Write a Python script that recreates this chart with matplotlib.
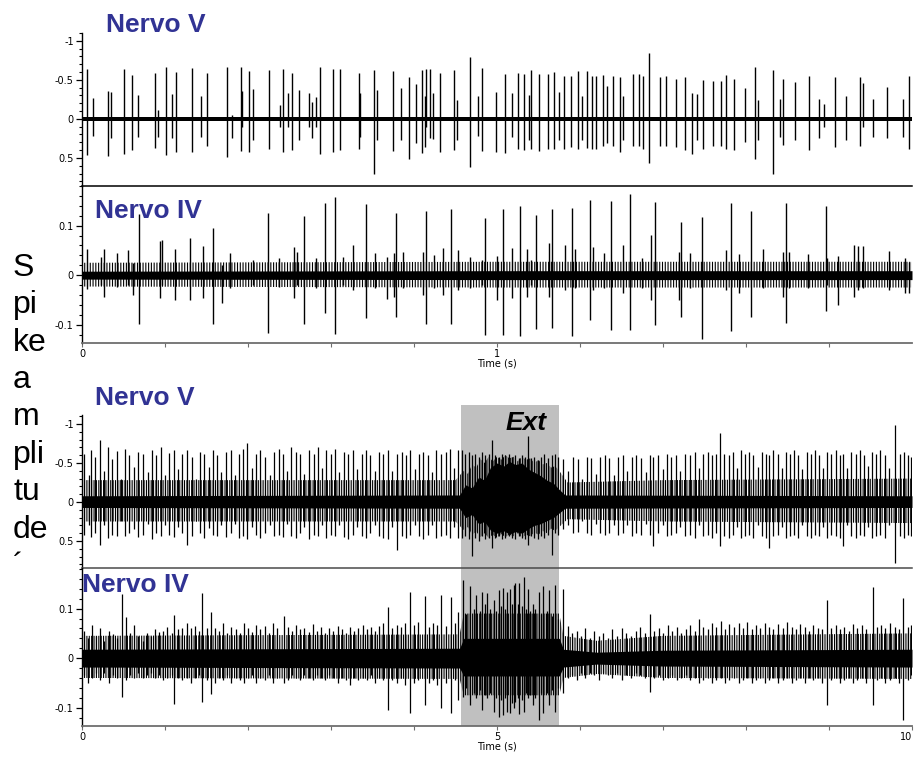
import numpy as np
import matplotlib
matplotlib.use('Agg')
import matplotlib.pyplot as plt
from matplotlib.patches import Rectangle
from matplotlib.ticker import MultipleLocator, FixedLocator
from matplotlib.transforms import blended_transform_factory

plt.rcParams['hatch.linewidth'] = 0.8

TITLE_BLUE = '#313394'
EXT_START, EXT_END = 4.57, 5.75

# spike tables: (time s, upward tip, downward tip)
# Nervo V, 0-2 s window (axis is inverted, negative is up)
V1_SPIKES = [
    (0.011, -0.64, 0.46), (0.027, -0.27, 0.22), (0.062, -0.36, 0.47), (0.071, -0.34, 0.25),
    (0.100, -0.64, 0.45), (0.121, -0.56, 0.40), (0.135, -0.31, 0.23), (0.176, -0.59, 0.37),
    (0.182, -0.12, 0.23), (0.202, -0.67, 0.46), (0.218, -0.32, 0.25), (0.227, -0.60, 0.43),
    (0.265, -0.65, 0.43), (0.286, -0.29, 0.23), (0.302, -0.59, 0.35), (0.350, -0.67, 0.49),
    (0.362, -0.05, 0.25), (0.384, -0.67, 0.41), (0.386, -0.36, 0.10), (0.402, -0.61, 0.42),
    (0.413, -0.38, 0.27), (0.450, -0.62, 0.38), (0.476, -0.18, 0.10), (0.484, -0.64, 0.43),
    (0.496, -0.33, 0.10), (0.506, -0.59, 0.40), (0.524, -0.37, 0.27), (0.546, -0.33, 0.10),
    (0.555, -0.22, 0.25), (0.565, -0.28, 0.10), (0.573, -0.66, 0.45), (0.604, -0.64, 0.43),
    (0.622, -0.64, 0.40), (0.667, -0.59, 0.38), (0.671, -0.33, 0.23), (0.704, -0.63, 0.71),
    (0.712, -0.37, 0.27), (0.749, -0.61, 0.41), (0.768, -0.39, 0.27), (0.788, -0.53, 0.52),
    (0.804, -0.45, 0.31), (0.819, -0.62, 0.44), (0.827, -0.29, 0.36), (0.829, -0.64, 0.10),
    (0.839, -0.64, 0.24), (0.845, -0.33, 0.26), (0.863, -0.59, 0.42), (0.897, -0.62, 0.40),
    (0.903, -0.24, 0.27), (0.935, -0.79, 0.62), (0.955, -0.29, 0.22), (0.964, -0.65, 0.41),
    (0.998, -0.34, 0.43), (1.019, -0.58, 0.44), (1.035, -0.33, 0.23), (1.051, -0.59, 0.39),
    (1.066, -0.58, 0.40), (1.078, -0.31, 0.27), (1.082, -0.62, 0.39), (1.100, -0.58, 0.41),
    (1.122, -0.58, 0.38), (1.137, -0.60, 0.38), (1.149, -0.34, 0.27), (1.161, -0.55, 0.38),
    (1.178, -0.55, 0.36), (1.196, -0.61, 0.38), (1.206, -0.29, 0.27), (1.216, -0.61, 0.37),
    (1.228, -0.55, 0.38), (1.239, -0.55, 0.38), (1.256, -0.56, 0.35), (1.266, -0.42, 0.31),
    (1.279, -0.55, 0.35), (1.297, -0.54, 0.42), (1.304, -0.29, 0.27), (1.328, -0.58, 0.35),
    (1.341, -0.57, 0.35), (1.353, -0.55, 0.38), (1.367, -0.84, 0.57), (1.393, -0.53, 0.35),
    (1.408, -0.55, 0.35), (1.431, -0.51, 0.36), (1.454, -0.53, 0.40), (1.471, -0.33, 0.45),
    (1.483, -0.32, 0.27), (1.497, -0.50, 0.38), (1.521, -0.48, 0.35), (1.539, -0.49, 0.35),
    (1.551, -0.56, 0.38), (1.572, -0.51, 0.40), (1.597, -0.39, 0.29), (1.622, -0.66, 0.52),
    (1.630, -0.24, 0.27), (1.664, -0.63, 0.70), (1.682, -0.26, 0.23), (1.688, -0.51, 0.33),
    (1.719, -0.47, 0.27), (1.753, -0.55, 0.40), (1.777, -0.26, 0.24), (1.788, -0.19, 0.10),
    (1.814, -0.53, 0.36), (1.841, -0.29, 0.27), (1.875, -0.53, 0.35), (1.883, -0.46, 0.10),
    (1.905, -0.26, 0.23), (1.939, -0.41, 0.24), (1.978, -0.26, 0.23), (1.992, -0.55, 0.38),
]

# Nervo IV, 0-2 s window
IV1_SPIKES = [
    (0.137, 0.124, -0.099), (0.316, 0.095, -0.098), (0.447, 0.126, -0.116), (0.534, 0.120, -0.098),
    (0.586, 0.145, -0.076), (0.610, 0.157, -0.118), (0.685, 0.144, -0.086), (0.757, 0.126, -0.084),
    (0.829, 0.130, -0.098), (0.888, 0.133, -0.099), (0.971, 0.115, -0.120), (1.015, 0.134, -0.120),
    (1.055, 0.140, -0.122), (1.093, 0.122, -0.108), (1.133, 0.134, -0.106), (1.181, 0.135, -0.122),
    (1.225, 0.152, -0.090), (1.275, 0.150, -0.111), (1.320, 0.164, -0.111), (1.370, 0.081, -0.050),
    (1.380, 0.147, -0.101), (1.443, 0.108, -0.084), (1.494, 0.117, -0.129), (1.564, 0.145, -0.113),
    (1.613, 0.130, -0.084), (1.696, 0.145, -0.097), (1.793, 0.140, -0.072),
    (0.013, 0.052, -0.027), (0.045, 0.036, -0.020), (0.054, 0.053, -0.044), (0.085, 0.044, -0.024),
    (0.112, 0.050, -0.020), (0.122, 0.024, -0.041), (0.188, 0.068, -0.047), (0.193, 0.071, -0.020),
    (0.224, 0.053, -0.051), (0.260, 0.076, -0.051), (0.292, 0.059, -0.047), (0.337, 0.020, -0.057),
    (0.357, 0.044, -0.025), (0.413, 0.030, -0.020), (0.475, 0.035, -0.024), (0.510, 0.056, -0.047),
    (0.517, 0.047, -0.020), (0.565, 0.034, -0.025), (0.630, 0.036, -0.020), (0.654, 0.060, -0.030),
    (0.706, 0.044, -0.025), (0.735, 0.037, -0.049), (0.751, 0.045, -0.044), (0.773, 0.047, -0.025),
    (0.821, 0.047, -0.041), (0.847, 0.041, -0.025), (0.871, 0.054, -0.041), (0.907, 0.051, -0.030),
    (0.935, 0.036, -0.025), (0.963, 0.030, -0.020), (1.001, 0.038, -0.051), (1.036, 0.054, -0.047),
    (1.073, 0.053, -0.044), (1.081, 0.030, -0.020), (1.125, 0.064, -0.045), (1.165, 0.060, -0.030),
    (1.187, 0.053, -0.025), (1.231, 0.057, -0.030), (1.258, 0.044, -0.025), (1.304, 0.061, -0.037),
    (1.349, 0.035, -0.025), (1.438, 0.047, -0.051), (1.465, 0.045, -0.025), (1.551, 0.051, -0.030),
    (1.582, 0.043, -0.037), (1.642, 0.052, -0.025), (1.690, 0.047, -0.044), (1.704, 0.047, -0.025),
    (1.750, 0.043, -0.025), (1.796, 0.034, -0.020), (1.821, 0.038, -0.061), (1.861, 0.061, -0.044),
    (1.871, 0.058, -0.030), (1.882, 0.058, -0.025), (1.945, 0.049, -0.030), (1.984, 0.035, -0.037),
    (1.993, 0.027, -0.037),
]

# Nervo V, 0-10 s recording with extension
V2_SPIKES = [
    (0.03, -0.62, 0.42), (0.08, -0.35, 0.30), (0.11, -0.66, 0.45), (0.16, -0.58, 0.40),
    (0.22, -0.80, 0.55), (0.27, -0.40, 0.30), (0.31, -0.70, 0.46), (0.36, -0.55, 0.42),
    (0.42, -0.65, 0.44), (0.47, -0.30, 0.25), (0.52, -0.68, 0.44), (0.57, -0.60, 0.40),
    (0.63, -0.45, 0.35), (0.68, -0.64, 0.45), (0.73, -0.62, 0.42), (0.79, -0.38, 0.28),
    (0.84, -0.66, 0.48), (0.89, -0.60, 0.40), (0.95, -0.70, 0.44), (1.00, -0.35, 0.30),
    (1.05, -0.63, 0.42), (1.11, -0.66, 0.45), (1.16, -0.42, 0.32), (1.21, -0.62, 0.40),
    (1.26, -0.66, 0.55), (1.32, -0.58, 0.44), (1.37, -0.30, 0.25), (1.42, -0.64, 0.40),
    (1.47, -0.62, 0.46), (1.53, -0.45, 0.33), (1.58, -0.66, 0.42), (1.63, -0.60, 0.44),
    (1.68, -0.38, 0.30), (1.73, -0.64, 0.45), (1.79, -0.66, 0.40), (1.84, -0.35, 0.28),
    (1.89, -0.62, 0.46), (1.94, -0.68, 0.44), (1.99, -0.76, 0.48), (2.05, -0.44, 0.32),
    (2.10, -0.62, 0.42), (2.15, -0.66, 0.46), (2.21, -0.58, 0.40), (2.26, -0.35, 0.30),
    (2.31, -0.64, 0.44), (2.37, -0.68, 0.42), (2.42, -0.62, 0.45), (2.47, -0.40, 0.28),
    (2.52, -0.70, 0.44), (2.58, -0.64, 0.46), (2.63, -0.62, 0.40), (2.68, -0.36, 0.32),
    (2.73, -0.66, 0.48), (2.79, -0.62, 0.42), (2.84, -0.70, 0.44), (2.89, -0.44, 0.30),
    (2.94, -0.66, 0.46), (3.00, -0.62, 0.42), (3.05, -0.68, 0.44), (3.10, -0.38, 0.30),
    (3.16, -0.64, 0.45), (3.21, -0.62, 0.48), (3.26, -0.66, 0.42), (3.31, -0.42, 0.32),
    (3.37, -0.62, 0.44), (3.42, -0.66, 0.46), (3.47, -0.60, 0.40), (3.53, -0.40, 0.30),
    (3.58, -0.64, 0.44), (3.63, -0.62, 0.46), (3.69, -0.66, 0.48), (3.74, -0.40, 0.32),
    (3.79, -0.62, 0.62), (3.85, -0.64, 0.44), (3.90, -0.60, 0.46), (3.95, -0.66, 0.42),
    (4.01, -0.42, 0.30), (4.06, -0.62, 0.44), (4.11, -0.64, 0.48), (4.17, -0.60, 0.42),
    (4.22, -0.38, 0.30), (4.27, -0.66, 0.46), (4.33, -0.62, 0.44), (4.38, -0.64, 0.42),
    (4.43, -0.68, 0.46), (4.48, -0.44, 0.32), (4.53, -0.66, 0.46),
    (4.58, -0.66, 0.46), (4.62, -0.62, 0.44), (4.66, -0.64, 0.48), (4.70, -0.60, 0.69),
    (4.74, -0.62, 0.46), (4.78, -0.58, 0.50), (4.82, -0.64, 0.44), (4.86, -0.60, 0.48),
    (4.90, -0.62, 0.46), (4.94, -0.80, 0.59), (4.98, -0.60, 0.46), (5.02, -0.58, 0.44),
    (5.06, -0.62, 0.48), (5.10, -0.60, 0.46), (5.14, -0.62, 0.44), (5.18, -0.58, 0.46),
    (5.22, -0.60, 0.48), (5.26, -0.56, 0.44), (5.30, -0.60, 0.46), (5.34, -0.58, 0.48),
    (5.37, -0.85, 0.55), (5.41, -0.56, 0.44), (5.45, -0.58, 0.46), (5.49, -0.54, 0.48),
    (5.53, -0.58, 0.44), (5.57, -0.62, 0.46), (5.61, -0.56, 0.42), (5.66, -0.60, 0.68),
    (5.70, -0.62, 0.40), (5.74, -0.58, 0.42),
    (5.80, -0.55, 0.35), (5.86, -0.40, 0.30), (5.91, -0.58, 0.40), (5.97, -0.55, 0.38),
    (6.02, -0.30, 0.25), (6.08, -0.58, 0.40), (6.13, -0.56, 0.42), (6.19, -0.36, 0.28),
    (6.24, -0.58, 0.40), (6.30, -0.60, 0.42), (6.35, -0.56, 0.40), (6.41, -0.34, 0.30),
    (6.46, -0.58, 0.42), (6.52, -0.60, 0.40), (6.57, -0.40, 0.30), (6.63, -0.58, 0.44),
    (6.68, -0.60, 0.40), (6.74, -0.56, 0.42), (6.79, -0.38, 0.28), (6.84, -0.60, 0.42),
    (6.88, -0.58, 0.57), (6.94, -0.60, 0.40), (7.00, -0.42, 0.30), (7.05, -0.62, 0.44),
    (7.10, -0.58, 0.42), (7.16, -0.60, 0.40), (7.21, -0.40, 0.32), (7.27, -0.62, 0.44),
    (7.32, -0.60, 0.42), (7.38, -0.64, 0.46), (7.43, -0.44, 0.30), (7.48, -0.62, 0.44),
    (7.54, -0.64, 0.42), (7.59, -0.60, 0.46), (7.64, -0.62, 0.40), (7.69, -0.89, 0.56),
    (7.74, -0.62, 0.44), (7.79, -0.60, 0.46), (7.84, -0.64, 0.42), (7.89, -0.44, 0.32),
    (7.94, -0.66, 0.46), (7.99, -0.62, 0.44), (8.04, -0.64, 0.42), (8.09, -0.60, 0.46),
    (8.14, -0.45, 0.30), (8.19, -0.64, 0.44), (8.24, -0.62, 0.46), (8.28, -0.60, 0.59),
    (8.33, -0.66, 0.44), (8.38, -0.62, 0.42), (8.43, -0.44, 0.32), (8.48, -0.64, 0.46),
    (8.53, -0.62, 0.44), (8.58, -0.66, 0.42), (8.63, -0.60, 0.46), (8.68, -0.42, 0.30),
    (8.73, -0.64, 0.44), (8.78, -0.62, 0.46), (8.83, -0.66, 0.42), (8.88, -0.60, 0.44),
    (8.93, -0.44, 0.32), (8.98, -0.64, 0.46), (9.03, -0.62, 0.42), (9.08, -0.66, 0.44),
    (9.13, -0.60, 0.46), (9.17, -0.62, 0.56), (9.22, -0.44, 0.30), (9.27, -0.64, 0.44),
    (9.32, -0.62, 0.46), (9.37, -0.66, 0.42), (9.42, -0.60, 0.44), (9.47, -0.46, 0.32),
    (9.52, -0.64, 0.46), (9.57, -0.62, 0.44), (9.62, -0.66, 0.42), (9.67, -0.60, 0.46),
    (9.72, -0.44, 0.30), (9.80, -0.99, 0.78), (9.85, -0.62, 0.44), (9.90, -0.64, 0.46),
    (9.95, -0.60, 0.42), (9.99, -0.58, 0.44),
]

# Nervo IV, 0-10 s recording with extension
IV2_SPIKES = [
    (0.02, 0.055, -0.035), (0.07, 0.040, -0.050), (0.12, 0.066, -0.040), (0.17, 0.045, -0.030),
    (0.22, 0.060, -0.045), (0.27, 0.035, -0.030), (0.32, 0.055, -0.050), (0.37, 0.048, -0.035),
    (0.42, 0.040, -0.040), (0.48, 0.130, -0.079), (0.53, 0.083, -0.045), (0.58, 0.050, -0.035),
    (0.63, 0.066, -0.040), (0.68, 0.045, -0.030), (0.73, 0.035, -0.040), (0.78, 0.050, -0.035),
    (0.83, 0.045, -0.030), (0.88, 0.058, -0.040), (0.93, 0.052, -0.035), (0.98, 0.055, -0.045),
    (1.03, 0.062, -0.040), (1.08, 0.050, -0.035), (1.11, 0.087, -0.093), (1.16, 0.058, -0.040),
    (1.21, 0.060, -0.045), (1.26, 0.070, -0.040), (1.31, 0.060, -0.050), (1.36, 0.065, -0.040),
    (1.41, 0.055, -0.035), (1.45, 0.132, -0.088), (1.50, 0.060, -0.045), (1.55, 0.093, -0.073),
    (1.60, 0.060, -0.050), (1.65, 0.055, -0.040), (1.70, 0.070, -0.045), (1.75, 0.050, -0.035),
    (1.80, 0.062, -0.050), (1.85, 0.058, -0.040), (1.90, 0.050, -0.045), (1.95, 0.070, -0.050),
    (2.00, 0.060, -0.040), (2.05, 0.052, -0.035), (2.10, 0.066, -0.050), (2.15, 0.058, -0.040),
    (2.20, 0.064, -0.045), (2.25, 0.050, -0.035), (2.30, 0.070, -0.050), (2.35, 0.060, -0.040),
    (2.43, 0.085, -0.050), (2.48, 0.062, -0.045), (2.53, 0.055, -0.035), (2.58, 0.066, -0.040),
    (2.63, 0.058, -0.045), (2.68, 0.060, -0.035), (2.73, 0.052, -0.040), (2.78, 0.068, -0.045),
    (2.83, 0.055, -0.035), (2.88, 0.062, -0.040), (2.93, 0.050, -0.045), (2.98, 0.060, -0.035),
    (3.03, 0.055, -0.040), (3.08, 0.064, -0.050), (3.13, 0.058, -0.040), (3.18, 0.050, -0.045),
    (3.23, 0.062, -0.055), (3.28, 0.055, -0.040), (3.33, 0.060, -0.045), (3.38, 0.066, -0.040),
    (3.43, 0.058, -0.045), (3.48, 0.062, -0.035), (3.53, 0.055, -0.050), (3.58, 0.064, -0.040),
    (3.63, 0.070, -0.045), (3.69, 0.103, -0.105), (3.74, 0.060, -0.045), (3.79, 0.066, -0.050),
    (3.84, 0.062, -0.040), (3.89, 0.070, -0.055), (3.95, 0.134, -0.110), (4.00, 0.066, -0.050),
    (4.05, 0.072, -0.045), (4.13, 0.126, -0.095), (4.18, 0.062, -0.050), (4.23, 0.070, -0.045),
    (4.28, 0.066, -0.055), (4.33, 0.127, -0.100), (4.38, 0.064, -0.050), (4.44, 0.124, -0.111),
    (4.49, 0.070, -0.045), (4.53, 0.093, -0.085),
    (4.59, 0.158, -0.078), (4.63, 0.090, -0.060), (4.68, 0.145, -0.095), (4.72, 0.100, -0.070),
    (4.75, 0.128, -0.081), (4.79, 0.095, -0.065), (4.82, 0.134, -0.105), (4.85, 0.110, -0.075),
    (4.88, 0.132, -0.081), (4.92, 0.100, -0.070), (4.96, 0.117, -0.108), (4.99, 0.095, -0.080),
    (5.02, 0.137, -0.118), (5.05, 0.105, -0.085), (5.07, 0.142, -0.115), (5.10, 0.100, -0.080),
    (5.12, 0.134, -0.108), (5.16, 0.140, -0.111), (5.18, 0.110, -0.090), (5.20, 0.147, -0.101),
    (5.22, 0.152, -0.088), (5.25, 0.110, -0.080), (5.27, 0.152, -0.112), (5.30, 0.105, -0.085),
    (5.32, 0.164, -0.108), (5.35, 0.100, -0.070), (5.37, 0.140, -0.081), (5.40, 0.095, -0.075),
    (5.43, 0.110, -0.095), (5.46, 0.100, -0.080), (5.50, 0.134, -0.125), (5.53, 0.090, -0.070),
    (5.56, 0.146, -0.111), (5.60, 0.095, -0.070), (5.63, 0.137, -0.095), (5.66, 0.085, -0.065),
    (5.70, 0.147, -0.108), (5.73, 0.080, -0.060), (5.80, 0.140, -0.071),
    (5.85, 0.065, -0.040), (5.90, 0.050, -0.035), (5.96, 0.055, -0.045), (6.01, 0.045, -0.030),
    (6.06, 0.060, -0.040), (6.12, 0.040, -0.030), (6.17, 0.055, -0.035), (6.23, 0.045, -0.045),
    (6.28, 0.050, -0.030), (6.34, 0.040, -0.035), (6.39, 0.058, -0.040), (6.45, 0.045, -0.030),
    (6.50, 0.060, -0.045), (6.56, 0.050, -0.035), (6.61, 0.045, -0.040), (6.67, 0.055, -0.030),
    (6.72, 0.062, -0.035), (6.78, 0.050, -0.040), (6.84, 0.090, -0.068), (6.89, 0.055, -0.040),
    (6.95, 0.060, -0.035), (7.00, 0.050, -0.045), (7.06, 0.066, -0.040), (7.11, 0.055, -0.035),
    (7.17, 0.062, -0.045), (7.22, 0.050, -0.040), (7.28, 0.058, -0.035), (7.33, 0.066, -0.045),
    (7.38, 0.055, -0.040), (7.43, 0.080, -0.050), (7.48, 0.062, -0.045), (7.54, 0.058, -0.040),
    (7.59, 0.070, -0.050), (7.64, 0.062, -0.045), (7.70, 0.075, -0.040), (7.75, 0.058, -0.050),
    (7.80, 0.068, -0.045), (7.86, 0.062, -0.040), (7.91, 0.070, -0.050), (7.96, 0.060, -0.045),
    (8.01, 0.072, -0.040), (8.07, 0.058, -0.050), (8.12, 0.066, -0.045), (8.17, 0.060, -0.040),
    (8.23, 0.070, -0.050), (8.28, 0.062, -0.045), (8.33, 0.058, -0.040), (8.39, 0.068, -0.050),
    (8.44, 0.060, -0.045), (8.49, 0.072, -0.040), (8.55, 0.062, -0.050), (8.60, 0.058, -0.045),
    (8.65, 0.068, -0.040), (8.71, 0.062, -0.050), (8.76, 0.055, -0.040), (8.81, 0.066, -0.045),
    (8.87, 0.060, -0.040), (8.92, 0.058, -0.050), (8.97, 0.117, -0.095), (9.02, 0.060, -0.045),
    (9.08, 0.066, -0.040), (9.13, 0.058, -0.050), (9.18, 0.062, -0.045), (9.24, 0.055, -0.040),
    (9.29, 0.068, -0.050), (9.34, 0.060, -0.045), (9.40, 0.066, -0.040), (9.45, 0.058, -0.050),
    (9.53, 0.144, -0.095), (9.58, 0.062, -0.045), (9.63, 0.066, -0.040), (9.68, 0.060, -0.050),
    (9.74, 0.070, -0.045), (9.79, 0.062, -0.040), (9.84, 0.058, -0.050), (9.89, 0.122, -0.125),
    (9.95, 0.062, -0.045), (9.99, 0.066, -0.035),
]

# solid baseline noise: knot times, upper edge, lower edge
V1_CORE_T = [0.0, 1.0, 2.0]
V1_CORE_HI = [-0.025, -0.025, -0.025]
V1_CORE_LO = [0.025, 0.025, 0.025]

IV1_CORE_T = [0.0, 1.0, 2.0]
IV1_CORE_HI = [0.008, 0.009, 0.009]
IV1_CORE_LO = [-0.008, -0.009, -0.009]

V2_CORE_T = [0.0, 4.55, 4.62, 4.7, 4.78, 4.85, 4.92, 5.0, 5.08, 5.15,
             5.22, 5.3, 5.38, 5.45, 5.52, 5.6, 5.68, 5.75, 5.82, 10.0]
V2_CORE_HI = [-0.08, -0.09, -0.22, -0.18, -0.32, -0.28, -0.44, -0.50, -0.46, -0.52,
              -0.48, -0.50, -0.42, -0.38, -0.34, -0.28, -0.24, -0.16, -0.09, -0.08]
V2_CORE_LO = [0.07, 0.08, 0.20, 0.16, 0.28, 0.25, 0.36, 0.40, 0.37, 0.41,
              0.38, 0.40, 0.34, 0.30, 0.28, 0.24, 0.20, 0.14, 0.08, 0.07]

IV2_CORE_T = [0.0, 4.55, 4.6, 5.75, 5.8, 6.2, 7.0, 10.0]
IV2_CORE_HI = [0.018, 0.020, 0.040, 0.040, 0.018, 0.012, 0.016, 0.018]
IV2_CORE_LO = [-0.018, -0.020, -0.036, -0.036, -0.018, -0.012, -0.016, -0.018]

# envelope of the dense small deflections around the core
IV1_NOISE_T = [0.0, 1.0, 2.0]
IV1_NOISE_HI = [0.025, 0.027, 0.027]
IV1_NOISE_LO = [-0.023, -0.025, -0.025]

V2_NOISE_T = [0.0, 4.5, 4.6, 4.65, 4.7, 4.75, 4.8, 4.85, 4.9, 4.95, 5.0, 5.05, 5.1, 5.15,
              5.2, 5.25, 5.3, 5.35, 5.4, 5.45, 5.5, 5.55, 5.6, 5.65, 5.7, 5.75, 5.85, 7.0, 10.0]
V2_NOISE_HI = [-0.28, -0.28, -0.40, -0.36, -0.48, -0.44, -0.55, -0.50, -0.58, -0.52, -0.58,
               -0.54, -0.60, -0.56, -0.58, -0.52, -0.58, -0.54, -0.56, -0.50, -0.54, -0.48,
               -0.50, -0.44, -0.46, -0.40, -0.25, -0.28, -0.30]
V2_NOISE_LO = [0.25, 0.25, 0.36, 0.32, 0.42, 0.38, 0.45, 0.40, 0.46, 0.42, 0.46, 0.41, 0.45,
               0.42, 0.44, 0.40, 0.46, 0.42, 0.44, 0.39, 0.42, 0.37, 0.40, 0.34, 0.37, 0.32,
               0.22, 0.25, 0.27]

IV2_NOISE_T = [0.0, 4.55, 4.6, 5.75, 5.8, 6.2, 7.0, 10.0]
IV2_NOISE_HI = [0.045, 0.048, 0.090, 0.090, 0.045, 0.035, 0.045, 0.050]
IV2_NOISE_LO = [-0.040, -0.042, -0.075, -0.075, -0.040, -0.032, -0.040, -0.042]

W, H = 917, 758
fig = plt.figure(figsize=(W / 100, H / 100), dpi=100)


def px_axes(x0, y0, x1, y1):
    return fig.add_axes([x0 / W, 1 - y1 / H, (x1 - x0) / W, (y1 - y0) / H])


def draw_trace(ax, spikes, core, noise=None, lw=1.0, hatch='|||||||'):
    t, up, dn = np.array(spikes).T
    if noise is not None:
        # dense small deflections drawn as tight vertical strokes
        ax.fill_between(noise[0], noise[2], noise[1], facecolor='none',
                        edgecolor='black', hatch=hatch, lw=0)
    ax.fill_between(core[0], core[2], core[1], color='black', lw=0)
    ax.vlines(t, dn, up, color='black', lw=lw)


def style_y(ax, ylim, ticks, labels, minor):
    ax.set_ylim(*ylim)
    ax.patch.set_visible(False)
    ax.spines['top'].set_visible(False)
    ax.spines['right'].set_visible(False)
    ax.spines['left'].set_linewidth(1.0)
    ax.set_yticks(ticks)
    ax.set_yticklabels(labels)
    ax.yaxis.set_minor_locator(MultipleLocator(minor))
    ax.tick_params(axis='y', which='major', length=4.5, width=0.9, labelsize=7, pad=1.5)
    ax.tick_params(axis='y', which='minor', length=2.5, width=0.8)


def style_x(ax, xmax, major, minor):
    ax.set_xlim(0, xmax)
    ax.spines['bottom'].set_color('#6e6e6e')
    ax.spines['bottom'].set_linewidth(1.3)
    ax.set_xticks(major)
    ax.set_xticklabels([f'{m:g}' for m in major])
    ax.xaxis.set_minor_locator(FixedLocator(minor))
    ax.tick_params(axis='x', which='both', length=3, width=0.8, color='#6e6e6e',
                   labelsize=7, pad=1)
    ax.set_xlabel('Time (s)', fontsize=7, labelpad=0)


def hide_x(ax, xmax, color):
    ax.set_xlim(0, xmax)
    ax.spines['bottom'].set_color(color)
    ax.spines['bottom'].set_linewidth(1.1)
    ax.tick_params(axis='x', which='both', bottom=False, labelbottom=False)


V_TICKS = [-1, -0.5, 0, 0.5]
V_LABELS = ['-1', '-0.5', '0', '0.5']
IV_TICKS = [-0.1, 0, 0.1]
IV_LABELS = ['-0.1', '0', '0.1']

ax_v1 = px_axes(82, 33, 912, 186)
ax_iv1 = px_axes(82, 186, 912, 343)
ax_v2 = px_axes(82, 415, 912, 568)
ax_iv2 = px_axes(82, 568, 912, 726)

draw_trace(ax_v1, V1_SPIKES, (V1_CORE_T, V1_CORE_HI, V1_CORE_LO))
draw_trace(ax_iv1, IV1_SPIKES, (IV1_CORE_T, IV1_CORE_HI, IV1_CORE_LO),
           (IV1_NOISE_T, IV1_NOISE_HI, IV1_NOISE_LO), hatch='||||||')
draw_trace(ax_v2, V2_SPIKES, (V2_CORE_T, V2_CORE_HI, V2_CORE_LO),
           (V2_NOISE_T, V2_NOISE_HI, V2_NOISE_LO), lw=0.9)
draw_trace(ax_iv2, IV2_SPIKES, (IV2_CORE_T, IV2_CORE_HI, IV2_CORE_LO),
           (IV2_NOISE_T, IV2_NOISE_HI, IV2_NOISE_LO), lw=0.9)

style_y(ax_v1, (0.86, -1.10), V_TICKS, V_LABELS, 0.1)
style_y(ax_iv1, (-0.137, 0.18), IV_TICKS, IV_LABELS, 0.02)
style_y(ax_v2, (0.846, -1.115), V_TICKS, V_LABELS, 0.1)
style_y(ax_iv2, (-0.137, 0.182), IV_TICKS, IV_LABELS, 0.02)

hide_x(ax_v1, 2.0, 'black')
hide_x(ax_v2, 10.0, '#4a4a4a')
style_x(ax_iv1, 2.0, [0, 1], [0.2, 0.4, 0.6, 0.8, 1.2, 1.4, 1.6, 1.8])
style_x(ax_iv2, 10.0, [0, 5, 10], [1, 2, 3, 4, 6, 7, 8, 9])
ax_iv2.get_xticklabels()[-1].set_ha('right')

# shaded extension window spanning both lower traces
trans = blended_transform_factory(ax_iv2.transData, fig.transFigure)
fig.add_artist(Rectangle((EXT_START, 1 - 726 / H), EXT_END - EXT_START, (726 - 405) / H,
                         transform=trans, facecolor='#c0c0c0', edgecolor='none', zorder=-1))

title_kw = dict(fontfamily='Liberation Sans', fontweight='bold', fontsize=19,
                color=TITLE_BLUE, va='baseline', ha='left')
fig.text(106 / W, 1 - 32 / H, 'Nervo V', **title_kw)
fig.text(95 / W, 1 - 218 / H, 'Nervo IV', **title_kw)
fig.text(95 / W, 1 - 405 / H, 'Nervo V', **title_kw)
fig.text(82 / W, 1 - 592 / H, 'Nervo IV', **title_kw)
fig.text(506 / W, 1 - 430 / H, 'Ext', fontfamily='Liberation Sans', fontweight='bold',
         fontstyle='italic', fontsize=19, color='black', va='baseline', ha='left')

fig.text(13 / W, 1 - 253 / H, 'S\npi\nke\na\nm\npli\ntu\nde\n\u00b4',
         fontfamily='Liberation Sans', fontsize=23, va='top', ha='left', linespacing=1.32)

fig.savefig('out.png', dpi=100)
